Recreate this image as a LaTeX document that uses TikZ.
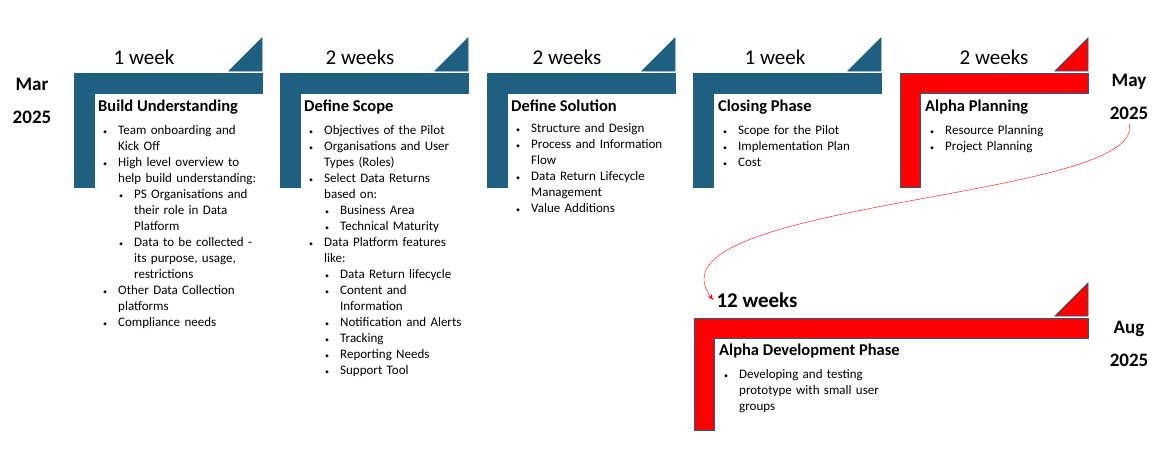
\documentclass[tikz,border=0pt]{standalone}
\usepackage{fontspec}
\setmainfont{Carlito}
\usepackage{enumitem}
\usetikzlibrary{positioning,arrows.meta}
\definecolor{phaseblue}{HTML}{1F5F80}
\definecolor{phasered}{HTML}{FF0000}
\setlist[itemize]{label={\footnotesize\textbullet},leftmargin=20pt,labelsep=11pt,itemsep=0pt,topsep=0pt,parsep=0pt,partopsep=0pt}
\setlist[itemize,2]{label={\footnotesize\textbullet},leftmargin=16pt}
% L-shaped phase bar with corner triangle: #1 left x, #2 bar top y, #3 right x, #4 bottom y
\newcommand{\phasebar}[5]{%
  \fill[#5,draw=phaseblue,line width=0.8pt] (#1,#2) -- (#3,#2) -- (#3,#2+20) -- (#1+20,#2+20) -- (#1+20,#4) -- (#1,#4) -- cycle;
  \fill[#5,draw=phaseblue,line width=0.8pt] (#3-33,#2-2) -- (#3,#2-2) -- (#3,#2-35) -- cycle;}
\tikzset{
  weeks/.style={font=\fontsize{21}{24}\selectfont},
  date/.style={font=\fontsize{19}{33}\bfseries\selectfont,align=center},
  title/.style={anchor=north west,inner sep=0pt,font=\fontsize{16.5}{18}\bfseries\selectfont},
  body/.style={anchor=north west,inner sep=0pt,font=\fontsize{13}{16}\selectfont,text width=#1},
}
\begin{document}
\begin{tikzpicture}[x=1pt,y=-1pt]
        \useasboundingbox (0,0) rectangle (1170,459);
        % Phase bars
        \phasebar{74}{73}{262}{187}{phaseblue}
        \phasebar{280}{73}{468}{187}{phaseblue}
        \phasebar{487}{73}{675}{187}{phaseblue}
        \phasebar{693}{73}{881}{187}{phaseblue}
        \phasebar{900}{73}{1088}{187}{phasered}
        \phasebar{694}{318}{1088}{430}{phasered}
        % Durations
        \node[weeks] (w1) at (144,57) {1 week};
        \node[weeks] (w2) at (360,57) {2 weeks};
        \node[weeks] (w3) at (567,57) {2 weeks};
        \node[weeks] (w4) at (775,57) {1 week};
        \node[weeks] (w5) at (994,57) {2 weeks};
        \node[weeks,font=\fontsize{21}{24}\bfseries\selectfont] (w6) at (757,300) {12 weeks};
        % Dates
        \node[date] (mar) at (32,101) {Mar\\2025};
        \node[date] (may) at (1129,97) {May\\2025};
        \node[date] (aug) at (1129,344) {Aug\\2025};
        % Phase contents
        \node[title] (t1) at (98,100) {Build Understanding};
        \node[body=162pt,below=4pt of t1.south west,anchor=north west] (b1) {%
          \begin{itemize}
          \item Team onboarding and Kick Off
          \item High level overview to help build understanding:
            \begin{itemize}
            \item PS Organisations and their role in Data Platform
            \item Data to be collected - its purpose, usage, restrictions
            \end{itemize}
          \item Other Data Collection platforms
          \item Compliance needs
          \end{itemize}};
        \node[title] (t2) at (304,100) {Define Scope};
        \node[body=160pt,below=4pt of t2.south west,anchor=north west] (b2) {%
          \begin{itemize}
          \item Objectives of the Pilot
          \item Organisations and User Types (Roles)
          \item Select Data Returns based on:
            \begin{itemize}
            \item Business Area
            \item Technical Maturity
            \end{itemize}
          \item Data Platform features like:
            \begin{itemize}
            \item Data Return lifecycle
            \item Content and Information
            \item Notification and Alerts
            \item Tracking
            \item Reporting Needs
            \item Support Tool
            \end{itemize}
          \end{itemize}};
        \node[title] (t3) at (511,100) {Define Solution};
        \node[body=160pt,below=4pt of t3.south west,anchor=north west] (b3) {%
          \begin{itemize}
          \item Structure and Design
          \item Process and Information Flow
          \item Data Return Lifecycle Management
          \item Value Additions
          \end{itemize}};
        \node[title] (t4) at (718,100) {Closing Phase};
        \node[body=160pt,below=4pt of t4.south west,anchor=north west] (b4) {%
          \begin{itemize}
          \item Scope for the Pilot
          \item Implementation Plan
          \item Cost
          \end{itemize}};
        \node[title] (t5) at (925,100) {Alpha Planning};
        \node[body=160pt,below=4pt of t5.south west,anchor=north west] (b5) {%
          \begin{itemize}
          \item Resource Planning
          \item Project Planning
          \end{itemize}};
        \node[title] (t6) at (719,344) {Alpha Development Phase};
        \node[body=180pt,below=4pt of t6.south west,anchor=north west] (b6) {%
          \begin{itemize}
          \item Developing and testing prototype with small user groups
          \end{itemize}};
        % Link to next stage
        \draw[phasered,-{Stealth[length=6pt]}] (may.south) .. controls (1150,200) and (640,200) .. (w6.west);
    \end{tikzpicture}
\end{document}
